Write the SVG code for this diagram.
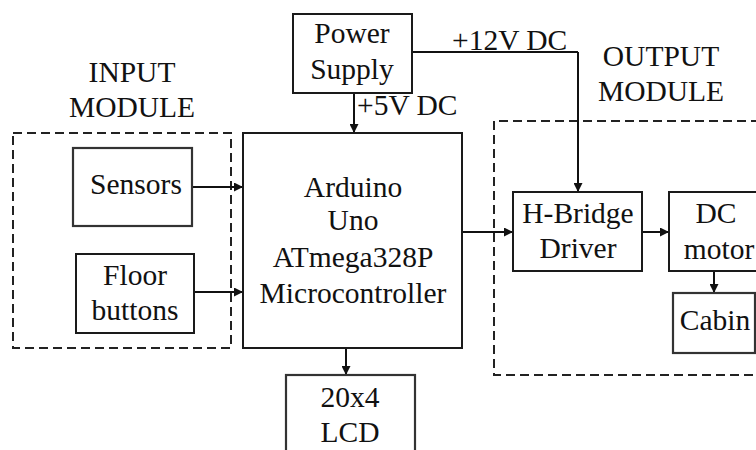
<svg xmlns="http://www.w3.org/2000/svg" width="756" height="450" viewBox="0 0 756 450">
<defs>
<marker id="arr" viewBox="0 0 10 10" refX="10" refY="5" markerWidth="9" markerHeight="9" markerUnits="userSpaceOnUse" orient="auto">
<path d="M0,0 L10,5 L0,10 Z" fill="#111"/>
</marker>
<style>
.box{fill:#fff;stroke:#1a1a1a;stroke-width:2}
.sbox{fill:#fff;stroke:#333;stroke-width:2.2}
.dash{fill:none;stroke:#222;stroke-width:2;stroke-dasharray:9 5}
.conn{fill:none;stroke:#111;stroke-width:2;marker-end:url(#arr)}
.line{fill:none;stroke:#111;stroke-width:2}
text{font-family:'Liberation Serif','Times New Roman',Tinos,'DejaVu Serif',serif;font-size:29.5px;fill:#111;text-anchor:middle}
.lbl{text-anchor:start}
</style>
</defs>
<rect width="756" height="450" fill="#fff"/>

<g id="input-module">
<rect class="dash" x="13" y="133" width="218" height="215"/>
<text x="132" y="82">INPUT</text>
<text x="132" y="117">MODULE</text>
</g>
<g id="output-module">
<path class="dash" d="M760,121 H494 V375 H760"/>
<text x="661" y="66">OUTPUT</text>
<text x="661" y="101">MODULE</text>
</g>

<g id="connectors">
<path class="line" d="M412,52 H578"/>
<path class="conn" d="M578,52 V192"/>
<path class="conn" d="M354,93 V133"/>
<path class="conn" d="M192,187 H243"/>
<path class="conn" d="M194,292 H243"/>
<path class="conn" d="M346,348 V375"/>
<path class="conn" d="M462,232 H513"/>
<path class="conn" d="M642,232 H669"/>
<path class="conn" d="M714,271 V293"/>
<text class="lbl" x="452" y="50">+12V DC</text>
<text class="lbl" x="357" y="115">+5V DC</text>
</g>

<g id="power-supply">
<rect class="box" x="293" y="14" width="119" height="79"/>
<text x="352" y="43">Power</text>
<text x="352" y="79">Supply</text>
</g>
<g id="sensors">
<rect class="sbox" x="73" y="148" width="119" height="78"/>
<text x="136" y="194">Sensors</text>
</g>
<g id="floor-buttons">
<rect class="box" x="76" y="254" width="118" height="79"/>
<text x="135" y="285">Floor</text>
<text x="135" y="320">buttons</text>
</g>
<g id="arduino">
<rect class="box" x="243" y="133" width="219" height="215"/>
<text x="353" y="197">Arduino</text>
<text x="353" y="230">Uno</text>
<text x="353" y="267">ATmega328P</text>
<text x="353" y="303">Microcontroller</text>
</g>
<g id="lcd">
<rect class="sbox" x="286" y="375" width="129" height="90"/>
<text x="350" y="407">20x4</text>
<text x="350" y="442">LCD</text>
</g>
<g id="h-bridge">
<rect class="box" x="513" y="192" width="129" height="79"/>
<text x="578" y="223">H-Bridge</text>
<text x="578" y="258">Driver</text>
</g>
<g id="dc-motor">
<rect class="box" x="669" y="192" width="100" height="79"/>
<text x="716" y="223">DC</text>
<text x="719" y="259">motor</text>
</g>
<g id="cabin">
<rect class="sbox" x="673" y="293" width="82" height="60"/>
<text x="715" y="330">Cabin</text>
</g>
</svg>
